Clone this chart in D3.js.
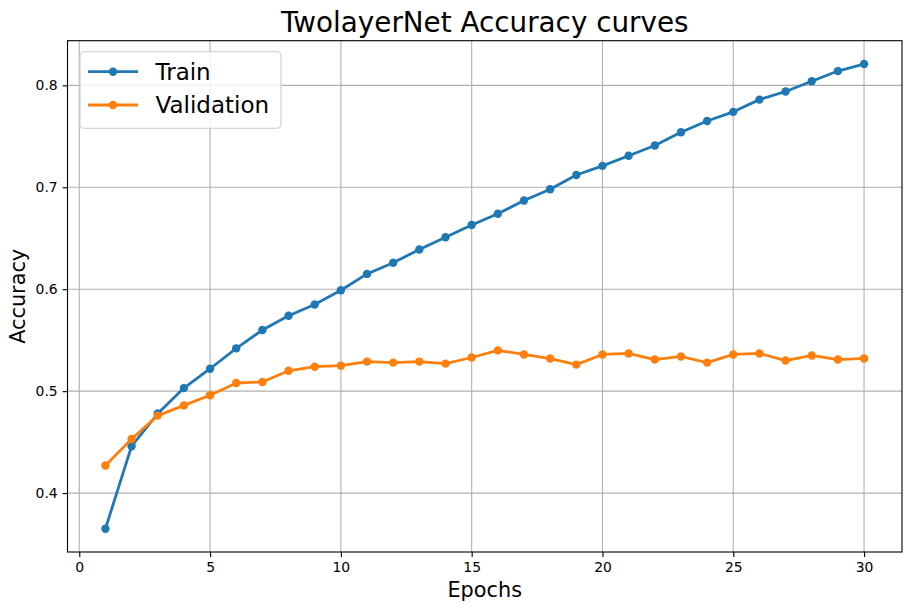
<!DOCTYPE html>
<html>
<head>
<meta charset="utf-8">
<script src="https://cdn.jsdelivr.net/npm/d3@7"></script>
<style>
  body { margin: 0; background: #fff; }
  svg { font-family: "DejaVu Sans", sans-serif; }
</style>
</head>
<body>
<svg id="chart" width="911" height="611"></svg>
<script>
// accuracy per epoch
var epochs = d3.range(1, 31);
var trainAcc = [0.365, 0.446, 0.478, 0.503, 0.522, 0.542, 0.560, 0.574, 0.585, 0.599,
                0.615, 0.626, 0.639, 0.651, 0.663, 0.674, 0.687, 0.698, 0.712, 0.721,
                0.731, 0.741, 0.754, 0.765, 0.774, 0.786, 0.794, 0.804, 0.814, 0.821];
var valAcc = [0.427, 0.453, 0.476, 0.486, 0.496, 0.508, 0.509, 0.520, 0.524, 0.525,
              0.529, 0.528, 0.529, 0.527, 0.533, 0.540, 0.536, 0.532, 0.526, 0.536,
              0.537, 0.531, 0.534, 0.528, 0.536, 0.537, 0.530, 0.535, 0.531, 0.532];
var xTicks = [0, 5, 10, 15, 20, 25, 30];
var yTicks = [0.4, 0.5, 0.6, 0.7, 0.8];
var seriesNames = ["Train", "Validation"];
var colors = ["#1f77b4", "#ff7f0e"];

// axes box
var width = 911, height = 611;
var margin = { top: 40.7, right: 9, bottom: 59, left: 67.5 };

var svg = d3.select("#chart");

// scales with matplotlib-like 5% padding
var xExt = d3.extent(epochs), xPad = (xExt[1] - xExt[0]) * 0.05;
var x = d3.scaleLinear()
    .domain([xExt[0] - xPad, xExt[1] + xPad])
    .range([margin.left, width - margin.right]);

var yExt = d3.extent(trainAcc.concat(valAcc)), yPad = (yExt[1] - yExt[0]) * 0.05;
var y = d3.scaleLinear()
    .domain([yExt[0] - yPad, yExt[1] + yPad])
    .range([height - margin.bottom, margin.top]);

// GRID
var grid = svg.append("g").attr("stroke", "#b0b0b0").attr("stroke-width", 1.1);
grid.selectAll(".gx").data(xTicks).enter().append("line")
    .attr("x1", d => x(d)).attr("x2", d => x(d))
    .attr("y1", margin.top).attr("y2", height - margin.bottom);
grid.selectAll(".gy").data(yTicks).enter().append("line")
    .attr("y1", d => y(d)).attr("y2", d => y(d))
    .attr("x1", margin.left).attr("x2", width - margin.right);

// AXES
var xAxis = svg.append("g")
    .attr("transform", "translate(0," + (height - margin.bottom) + ")")
    .call(d3.axisBottom(x).tickValues(xTicks).tickSize(4.9).tickPadding(4.9).tickFormat(d3.format("d")));
var yAxis = svg.append("g")
    .attr("transform", "translate(" + margin.left + ",0)")
    .call(d3.axisLeft(y).tickValues(yTicks).tickSize(4.9).tickPadding(4.9).tickFormat(d3.format(".1f")));
[xAxis, yAxis].forEach(function(a) {
    a.select(".domain").remove();
    a.selectAll("line").attr("stroke", "#000").attr("stroke-width", 1.1);
    a.selectAll("text").attr("font-family", "DejaVu Sans").attr("font-size", 13.9).attr("fill", "#000");
});

// frame
svg.append("rect")
    .attr("x", margin.left).attr("y", margin.top)
    .attr("width", width - margin.right - margin.left)
    .attr("height", height - margin.bottom - margin.top)
    .attr("fill", "none").attr("stroke", "#000").attr("stroke-width", 1.1);

// LINES + MARKERS
var series = [trainAcc, valAcc];
var line = d3.line().x((d, i) => x(epochs[i])).y(d => y(d));
series.forEach(function(vals, k) {
    var g = svg.append("g");
    g.append("path").datum(vals)
        .attr("d", line)
        .attr("fill", "none")
        .attr("stroke", colors[k])
        .attr("stroke-width", 2.78)
        .attr("stroke-linejoin", "round")
        .attr("stroke-linecap", "square");
    g.selectAll("circle").data(vals).enter().append("circle")
        .attr("cx", (d, i) => x(epochs[i]))
        .attr("cy", d => y(d))
        .attr("r", 4.2)
        .attr("fill", colors[k]);
});

// TEXT
svg.append("text")
    .attr("x", (margin.left + width - margin.right) / 2).attr("y", 31.7)
    .attr("text-anchor", "middle").attr("font-size", 27.8)
    .text("TwolayerNet Accuracy curves");
svg.append("text")
    .attr("x", (margin.left + width - margin.right) / 2).attr("y", 597.3)
    .attr("text-anchor", "middle").attr("font-size", 20.8)
    .text("Epochs");
svg.append("text")
    .attr("transform", "translate(25," + ((margin.top + height - margin.bottom) / 2) + ") rotate(-90)")
    .attr("text-anchor", "middle").attr("font-size", 20.8)
    .text("Accuracy");

// LEGEND
var legend = svg.append("g");
legend.append("rect")
    .attr("x", 80).attr("y", 51.7).attr("width", 201).attr("height", 76.6)
    .attr("rx", 4).attr("ry", 4)
    .attr("fill", "#fff").attr("fill-opacity", 0.8)
    .attr("stroke", "#cccccc").attr("stroke-width", 1.1);
var items = legend.selectAll(".item").data(seriesNames).enter().append("g")
    .attr("transform", (d, i) => "translate(0," + (71.7 + i * 33.3) + ")");
items.append("line")
    .attr("x1", 88).attr("x2", 138)
    .attr("stroke", (d, i) => colors[i]).attr("stroke-width", 2.78);
items.append("circle")
    .attr("cx", 113).attr("r", 4.2)
    .attr("fill", (d, i) => colors[i]);
items.append("text")
    .attr("x", 155.5).attr("dy", "0.36em")
    .attr("font-size", 23)
    .text(d => d);
</script>
</body>
</html>
